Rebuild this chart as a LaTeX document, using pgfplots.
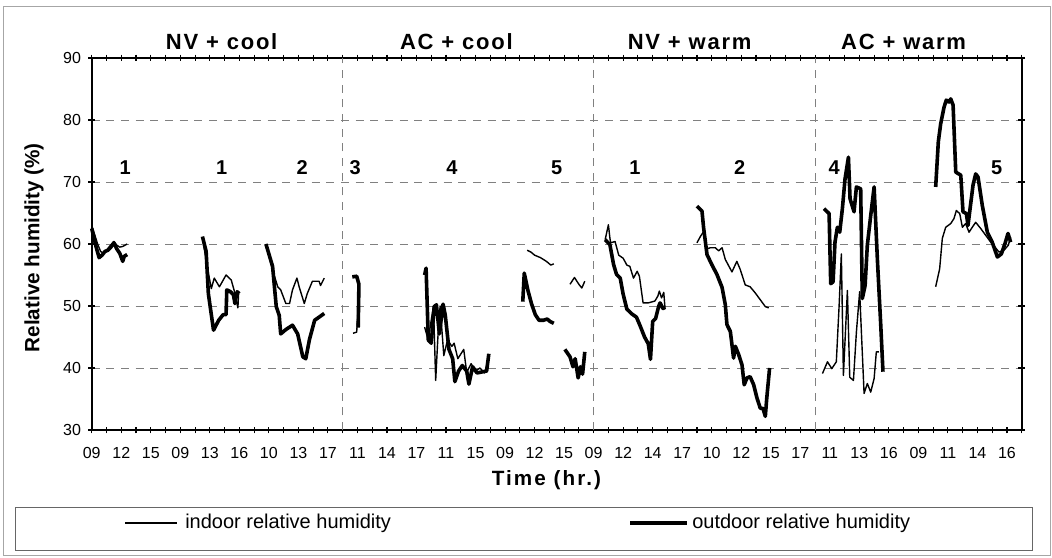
\documentclass[border=0pt]{standalone}
\usepackage{fontspec}
\setmainfont{Liberation Sans}
\usepackage{pgfplots}
\pgfplotsset{compat=1.18}
\begin{document}
\begin{tikzpicture}
\path[use as bounding box] (0,0) rectangle (789pt,417.75pt);
\begin{axis}[
  at={(68.8pt,95.25pt)}, anchor=south west,
  width=697.5pt, height=279pt, scale only axis,
  xmin=0, xmax=63, ymin=30, ymax=90,
  xtick={0,2,...,62}, minor xtick={1,3,...,63},
  xticklabels={09,12,15,09,13,16,10,13,17,11,14,17,11,15,09,12,15,09,12,14,17,10,12,15,17,11,13,16,09,11,14,16},
  ytick={30,40,...,90},
  tick align=center, major tick length=5pt, minor tick length=5pt,
  tick style={black, line width=0.8pt},
  axis line style={black, line width=1.3pt},
  ymajorgrids,
  major grid style={gray, line width=0.6pt, dash pattern=on 6pt off 5pt},
  extra x ticks={17,34,49}, extra x tick labels={},
  extra x tick style={xmajorgrids=true, major tick length=0pt},
  clip=false,
  /pgf/number format/assume math mode=true,
  ticklabel style={font=\fontsize{12}{14}\selectfont},
  xticklabel style={yshift=-7pt},
  yticklabel style={xshift=-2pt},
  ylabel={\textbf{Relative humidity (\%)}},
  ylabel style={at={(axis description cs:-0.062,0.49)}, anchor=center, font=\fontsize{15.5}{17}\selectfont},
  xlabel={\textbf{\addfontfeature{LetterSpace=10}Time (hr.)}},
  xlabel style={at={(axis description cs:0.49,-0.134)}, anchor=center, font=\fontsize{15.5}{17}\selectfont},
  thinl/.style={black, line width=1.05pt, line join=round},
  thickl/.style={black, line width=2.7pt, line join=round},
]
% ---- NV + cool, day 1
\addplot[thinl] coordinates {(0,63) (0.2,61.5) (0.4,60) (0.6,58.8) (0.8,58.5) (1.0,59) (1.2,59.6) (1.5,60.4) (1.7,59.8) (1.9,59.5) (2.1,59.6) (2.4,60)};
\addplot[thickl] coordinates {(0,62.5) (0.15,61) (0.3,59.5) (0.5,57.8) (0.7,58.2) (0.9,58.8) (1.1,59) (1.3,59.5) (1.5,60.2) (1.7,59.2) (1.9,58.5) (2.1,57.2) (2.2,58) (2.4,58.3)};
% ---- NV + cool, 1
\addplot[thinl] coordinates {(7.5,61) (7.85,56) (8.1,52.8) (8.3,54.5) (8.65,53.1) (9.1,55) (9.45,54.2) (9.65,52.5) (9.9,49.7) (9.95,52)};
\addplot[thickl] coordinates {(7.5,61.2) (7.75,58.8) (7.9,52) (8.25,46.1) (8.6,47.7) (8.9,48.6) (9.1,48.6) (9.15,52.6) (9.4,52.3) (9.6,51.8) (9.7,50.4) (9.85,52.3) (10.0,52)};
% ---- NV + cool, 2
\addplot[thinl] coordinates {(11.8,60) (12.25,55.8) (12.6,53.1) (12.8,52.6) (13.15,50.4) (13.4,50.4) (13.6,52.6) (13.9,54.5) (14.05,53.1) (14.4,50.4) (14.6,52) (14.95,54) (15.4,54) (15.5,53.3) (15.75,54.5)};
\addplot[thickl] coordinates {(11.8,60) (12.25,56.4) (12.5,49.9) (12.7,48.5) (12.8,45.5) (13.15,46.2) (13.6,46.9) (13.95,45.5) (14.3,41.8) (14.5,41.5) (14.75,44.6) (15.1,47.7) (15.4,48.2) (15.75,48.8)};
% ---- AC + cool, 3
\addplot[thinl] coordinates {(17.7,45.6) (17.95,45.8) (18.05,50) (18.1,54)};
\addplot[thickl] coordinates {(17.65,54.7) (17.95,54.8) (18.1,53.5) (18.05,46.5)};
% ---- AC + cool, 4
\addplot[thinl] coordinates {(22.55,46.6) (22.8,44.5) (22.95,47) (23.15,50) (23.3,38) (23.45,45) (23.6,50) (23.85,42) (24.1,44.5) (24.4,43.5) (24.55,44) (24.8,41.5) (25.2,43) (25.4,39.3) (25.7,40.7) (26.0,39.5) (26.3,40) (26.6,39.2) (26.9,41.5)};
\addplot[thickl] coordinates {(22.55,55) (22.65,56.1) (22.8,44.5) (23.0,44) (23.2,49.9) (23.35,50.2) (23.55,45.5) (23.8,50.3) (23.95,48.5) (24.2,43) (24.45,41.5) (24.6,37.8) (24.85,39.5) (25.1,40.4) (25.4,39.5) (25.55,37.4) (25.8,40.2) (26.1,39.2) (26.5,39.4) (26.75,39.5) (26.9,42.3)};
% ---- AC + cool, 5
\addplot[thinl] coordinates {(29.5,59) (29.75,58.7) (30.0,58.2) (30.4,57.8) (30.8,57.2) (31.1,56.6) (31.3,56.8)};
\addplot[thickl] coordinates {(29.2,50.7) (29.3,55.3) (29.55,52.5) (29.8,50.3) (30.05,48.6) (30.3,47.7) (30.6,47.7) (30.85,47.9) (31.05,47.5) (31.3,47.2)};
\addplot[thinl] coordinates {(32.4,53.5) (32.7,54.6) (33.0,53.5) (33.2,52.9) (33.4,54.0)};
\addplot[thickl] coordinates {(32.05,43) (32.4,41.8) (32.6,40.2) (32.75,41.5) (32.95,38.4) (33.1,40.2) (33.25,39) (33.4,42.6)};
% ---- NV + warm, 1
\addplot[thinl] coordinates {(34.78,60.7) (35.0,63.1) (35.1,61) (35.15,60.2) (35.45,60.4) (35.7,58.2) (36.0,57.7) (36.25,56.6) (36.45,56.4) (36.7,54.5) (36.95,55.6) (37.1,54.8) (37.35,50.5) (37.7,50.5) (38.15,50.8) (38.35,51.6) (38.45,52.4) (38.6,51.3) (38.75,52.2) (38.84,49.5)};
\addplot[thickl] coordinates {(34.78,60.7) (35.1,59.9) (35.35,56.7) (35.55,55.1) (35.8,54.5) (36.0,51.9) (36.25,49.5) (36.6,48.7) (36.9,48.2) (37.15,46.8) (37.45,45) (37.7,43.9) (37.85,41.4) (38.0,47.5) (38.2,48) (38.4,49.9) (38.5,50.5) (38.7,49.6) (38.84,49.8)};
% ---- NV + warm, 2
\addplot[thinl] coordinates {(41.0,60.2) (41.23,61.2) (41.45,62) (41.68,59.2) (41.9,59.4) (42.24,59.4) (42.47,58.9) (42.7,59.4) (42.92,57.5) (43.37,55.5) (43.7,57.2) (43.93,55.9) (44.27,53.4) (44.6,53.1) (44.95,52.1) (45.29,51) (45.63,49.9) (45.86,49.7)};
\addplot[thickl] coordinates {(41.0,66.1) (41.34,65.3) (41.45,62.6) (41.68,58.3) (42.0,56.7) (42.35,55.1) (42.7,53.0) (42.92,50.2) (43.03,47.0) (43.26,45.9) (43.48,41.6) (43.6,43.5) (43.82,42.2) (44.05,40.5) (44.2,37.3) (44.39,38.4) (44.6,38.6) (44.84,37.3) (45.06,35.2) (45.29,33.5) (45.47,33.5) (45.63,32.2) (45.73,35.2) (45.92,40)};
% ---- AC + warm, 4
\addplot[thinl] coordinates {(49.5,39.1) (49.84,41.0) (50.13,39.9) (50.44,41.0) (50.63,50.1) (50.78,58.4) (50.92,38.8) (51.19,52.5) (51.35,38.5) (51.6,38.0) (51.8,45.8) (52.02,52.3) (52.32,35.9) (52.54,37.5) (52.77,36.1) (53.0,38.3) (53.15,42.6) (53.33,42.6)};
\addplot[thickl] coordinates {(49.61,65.7) (49.95,64.9) (50.06,53.6) (50.22,53.9) (50.35,60.3) (50.51,62.7) (50.67,61.9) (50.85,65.7) (51.03,70.5) (51.26,74.0) (51.37,67.3) (51.64,65.2) (51.8,69.2) (52.09,68.9) (52.2,51.2) (52.39,53.3) (52.54,59.8) (52.77,64.6) (53.0,69.2) (53.22,57.6) (53.45,46.9) (53.6,39.4)};
% ---- AC + warm, 5
\addplot[thinl] coordinates {(57.17,53.1) (57.44,56.0) (57.62,60.9) (57.85,62.7) (58.19,63.3) (58.41,64.1) (58.57,65.4) (58.8,64.9) (58.98,62.7) (59.2,63.3) (59.43,61.9) (59.65,62.7) (59.88,63.5) (60.22,62.5) (60.56,61.4) (60.9,60.3) (61.19,59.5) (61.46,58.7) (61.8,59.0) (62.09,59.8) (62.25,61.1)};
\addplot[thickl] coordinates {(57.17,69.2) (57.35,76.5) (57.51,79.4) (57.74,82.1) (57.89,83.2) (58.07,82.9) (58.19,83.4) (58.35,82.4) (58.53,71.6) (58.87,71.1) (59.02,65.2) (59.25,64.9) (59.36,63.0) (59.5,65.7) (59.7,69.5) (59.88,71.3) (60.04,70.8) (60.33,66.2) (60.67,61.9) (61.0,60.3) (61.35,57.9) (61.62,58.4) (61.87,60.1) (62.07,61.7) (62.25,60.3)};
% ---- titles
\begin{scope}[every node/.style={font=\bfseries\fontsize{16.5}{18}\selectfont\addfontfeature{LetterSpace=8}}]
\node at (axis cs:8.8,92.6) {NV + cool};
\node at (axis cs:24.7,92.6) {AC + cool};
\node at (axis cs:40.5,92.6) {NV + warm};
\node at (axis cs:55.0,92.6) {AC + warm};
\end{scope}
\begin{scope}[every node/.style={font=\bfseries\fontsize{15}{17}\selectfont}]
\node at (axis cs:2.26,72.3) {1};
\node at (axis cs:8.8,72.3) {1};
\node at (axis cs:14.25,72.3) {2};
\node at (axis cs:17.85,72.3) {3};
\node at (axis cs:24.4,72.3) {4};
\node at (axis cs:31.5,72.3) {5};
\node at (axis cs:36.8,72.3) {1};
\node at (axis cs:43.9,72.3) {2};
\node at (axis cs:50.3,72.3) {4};
\node at (axis cs:61.3,72.3) {5};
\end{scope}
\end{axis}
% legend
\draw[line width=0.7pt, gray!80!black] (11.25pt,5.25pt) rectangle (774pt,37.5pt);
\draw[line width=1.05pt] (93.75pt,25.5pt) -- (132.75pt,25.5pt);
\node[anchor=west, inner sep=0pt, font=\fontsize{15}{17}\selectfont] at (138.75pt,25.5pt) {indoor relative humidity};
\draw[line width=2.7pt] (472.5pt,25.5pt) -- (515.25pt,25.5pt);
\node[anchor=west, inner sep=0pt, font=\fontsize{15}{17}\selectfont] at (519pt,25.5pt) {outdoor relative humidity};
% outer frame
\draw[line width=0.7pt, gray!70] (2.25pt,1.5pt) rectangle (787.5pt,413.25pt);
\end{tikzpicture}
\end{document}
